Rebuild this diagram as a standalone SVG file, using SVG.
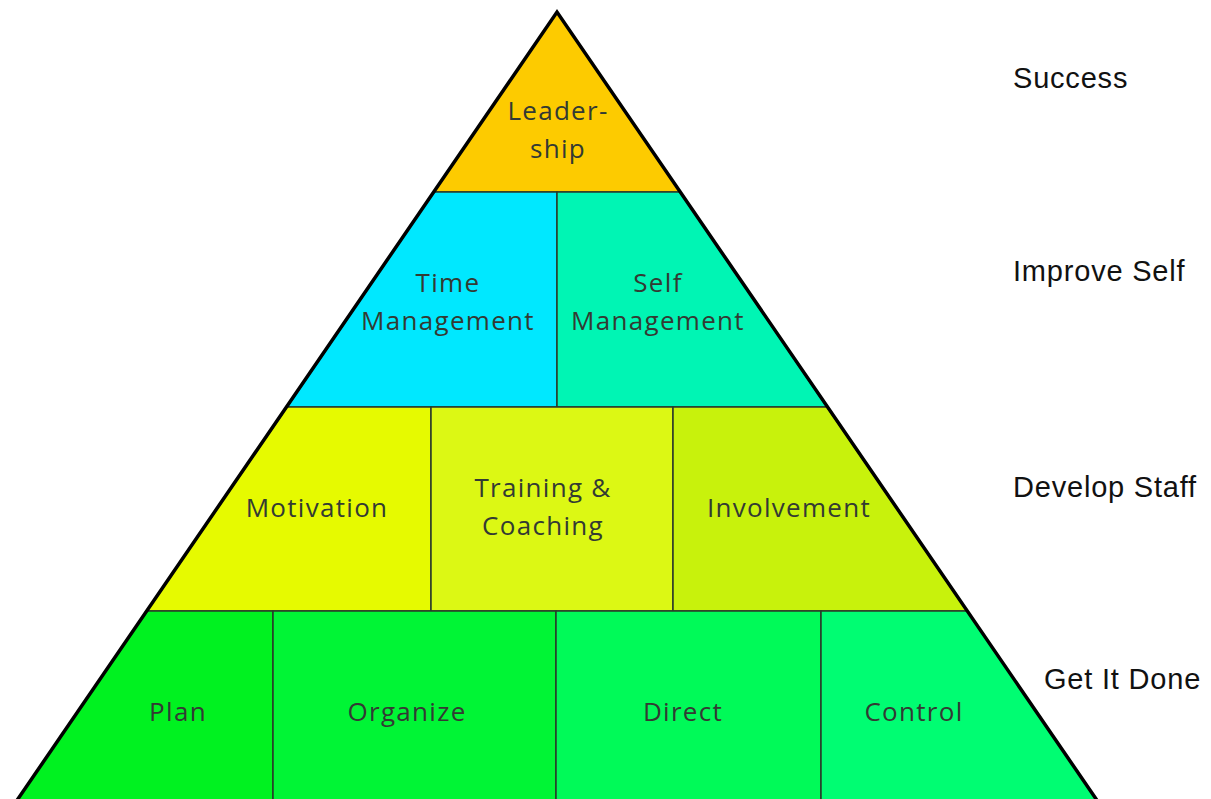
<svg xmlns="http://www.w3.org/2000/svg" width="1211" height="799" viewBox="0 0 1211 799">
<style>
.cell{stroke:#2a3a2a;stroke-width:1.5}
.lbl{font-family:"Open Sans","Noto Sans",sans-serif;font-size:26px;letter-spacing:1.3px;fill:#333a33;text-anchor:middle}
.side{font-family:"Liberation Sans",Arial,sans-serif;font-size:29px;letter-spacing:0.8px;fill:#111}
</style>
<rect width="1211" height="799" fill="#fff"/>
<g id="leadership">
<polygon class="cell" points="557,12 434,192 680,192" fill="#FDCB00"/>
<text class="lbl" x="558" y="120">Leader-</text>
<text class="lbl" x="558" y="158">ship</text>
</g>
<g id="time-management">
<polygon class="cell" points="434,192 557,192 557,407 287,407" fill="#00E8FF"/>
<text class="lbl" x="448" y="292">Time</text>
<text class="lbl" x="448" y="330">Management</text>
</g>
<g id="self-management">
<polygon class="cell" points="557,192 680,192 827,407 557,407" fill="#00F5B4"/>
<text class="lbl" x="658" y="292">Self</text>
<text class="lbl" x="658" y="330">Management</text>
</g>
<g id="motivation">
<polygon class="cell" points="287,407 431,407 431,611 147,611" fill="#E6FA00"/>
<text class="lbl" x="317" y="517">Motivation</text>
</g>
<g id="training-coaching">
<polygon class="cell" points="431,407 673,407 673,611 431,611" fill="#DCF814"/>
<text class="lbl" x="543" y="497">Training &amp;</text>
<text class="lbl" x="543" y="535">Coaching</text>
</g>
<g id="involvement">
<polygon class="cell" points="673,407 827,407 967,611 673,611" fill="#C8F20C"/>
<text class="lbl" x="789" y="517">Involvement</text>
</g>
<g id="plan">
<polygon class="cell" points="147,611 273,611 273,812 9,812" fill="#00F220"/>
<text class="lbl" x="178" y="721">Plan</text>
</g>
<g id="organize">
<polygon class="cell" points="273,611 556,611 556,812 273,812" fill="#00F535"/>
<text class="lbl" x="407" y="721">Organize</text>
</g>
<g id="direct">
<polygon class="cell" points="556,611 821,611 821,812 556,812" fill="#00FA58"/>
<text class="lbl" x="683" y="721">Direct</text>
</g>
<g id="control">
<polygon class="cell" points="821,611 967,611 1105,812 821,812" fill="#00FD72"/>
<text class="lbl" x="914" y="721">Control</text>
</g>
<g id="outline">
<polyline points="9,812 557,12 1105,812" fill="none" stroke="#000" stroke-width="3.5" stroke-linejoin="miter"/>
</g>
<g id="levels">
<text class="side" x="1013" y="88">Success</text>
<text class="side" x="1013" y="281">Improve Self</text>
<text class="side" x="1013" y="497">Develop Staff</text>
<text class="side" x="1044" y="689">Get It Done</text>
</g>
<g id="connectors"></g>
</svg>
